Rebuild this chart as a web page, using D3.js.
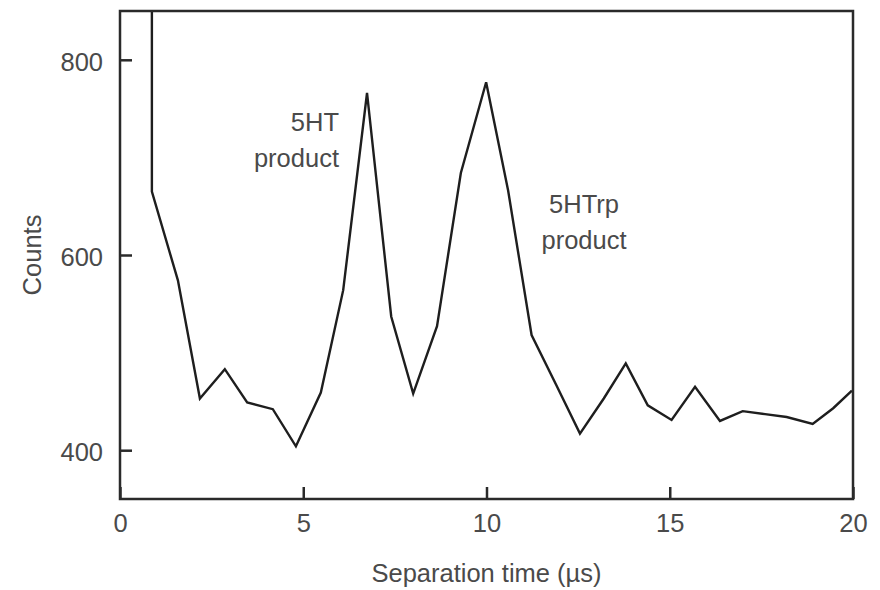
<!DOCTYPE html>
<html>
<head>
<meta charset="utf-8">
<script src="https://cdn.jsdelivr.net/npm/d3@7"></script>
<style>
    body { margin: 0; background: #fff; }
    text { font-family: "Liberation Sans", Arial, sans-serif; fill: #4a4a4a; }
</style>
</head>
<body>
<div id="chart"></div>
<script>
// separation time (µs) and counts
const times = [0.87, 0.87, 1.58, 2.18, 2.86, 3.47, 4.17, 4.8, 5.48, 6.09, 6.74, 7.4, 8.0, 8.65, 9.3, 9.99,
    10.59, 11.23, 11.9, 12.55, 13.2, 13.8, 14.4, 15.05, 15.69, 16.37, 16.99, 17.6, 18.19, 18.9, 19.46, 19.97];
const counts = [900, 665, 574, 453, 483, 449, 442, 404, 459, 564, 766, 537, 458, 527, 684, 777,
    666, 518, 467, 417, 453, 489, 446, 431, 465, 430, 440, 437, 434, 427, 443, 461];

const xTicks = [0, 5, 10, 15, 20];
const yTicks = [400, 600, 800];

const labels = [
    { lines: ["5HT", "product"], x: 339, y: 131, anchor: "end" },
    { lines: ["5HTrp", "product"], x: 584, y: 213, anchor: "middle" }
];

const buildChart = element => {
    const width = 880;
    const height = 590;
    const margin = { left: 120, top: 11, right: 27, bottom: 91 };
    const innerW = width - margin.left - margin.right;
    const innerH = height - margin.top - margin.bottom;
    const tickLen = 12;
    const fontSize = 25.5;

    const svg = d3.select(element)
        .append("svg")
        .attr("width", width)
        .attr("height", height);

    const x = d3.scaleLinear().domain([0, 20]).range([margin.left, margin.left + innerW]);
    const y = d3.scaleLinear().domain([350, 850]).range([margin.top + innerH, margin.top]);

    svg.append("clipPath")
        .attr("id", "plot-clip")
        .append("rect")
        .attr("x", margin.left)
        .attr("y", margin.top)
        .attr("width", innerW)
        .attr("height", innerH);

    const points = times.map((t, i) => [t, counts[i]]);

    svg.append("path")
        .datum(points)
        .attr("clip-path", "url(#plot-clip)")
        .attr("fill", "none")
        .attr("stroke", "#1e1e1e")
        .attr("stroke-width", 2.4)
        .attr("stroke-linejoin", "miter")
        .attr("d", d3.line().x(d => x(d[0])).y(d => y(d[1])));

    // frame
    svg.append("rect")
        .attr("x", margin.left)
        .attr("y", margin.top)
        .attr("width", innerW)
        .attr("height", innerH)
        .attr("fill", "none")
        .attr("stroke", "#2a2a2a")
        .attr("stroke-width", 2.5);

    const xAxis = svg.append("g")
        .attr("transform", `translate(0,${margin.top + innerH})`)
        .call(d3.axisBottom(x).tickValues(xTicks).tickSizeInner(-tickLen).tickSizeOuter(0).tickPadding(15));

    const yAxis = svg.append("g")
        .attr("transform", `translate(${margin.left},0)`)
        .call(d3.axisLeft(y).tickValues(yTicks).tickSizeInner(-tickLen).tickSizeOuter(0).tickPadding(17));

    [xAxis, yAxis].forEach(g => {
        g.select(".domain").remove();
        g.selectAll(".tick line").attr("stroke", "#2a2a2a").attr("stroke-width", 2.5);
        g.selectAll(".tick text")
            .attr("font-size", fontSize)
            .attr("font-family", null)
            .attr("fill", "#4a4a4a");
    });
    xAxis.selectAll(".tick text").attr("dy", "0.72em");
    yAxis.selectAll(".tick text").attr("dy", "0.42em");

    svg.append("text")
        .attr("x", margin.left + innerW / 2)
        .attr("y", 582)
        .attr("text-anchor", "middle")
        .attr("font-size", fontSize)
        .text("Separation time (µs)");

    svg.append("text")
        .attr("transform", `translate(41,255) rotate(-90)`)
        .attr("text-anchor", "middle")
        .attr("font-size", fontSize)
        .text("Counts");

    labels.forEach(l => {
        const t = svg.append("text")
            .attr("text-anchor", l.anchor)
            .attr("font-size", fontSize);
        l.lines.forEach((s, i) => {
            t.append("tspan")
                .attr("x", l.x)
                .attr("y", l.y + i * 36)
                .text(s);
        });
    });
};

buildChart(document.getElementById("chart"));
</script>
</body>
</html>
